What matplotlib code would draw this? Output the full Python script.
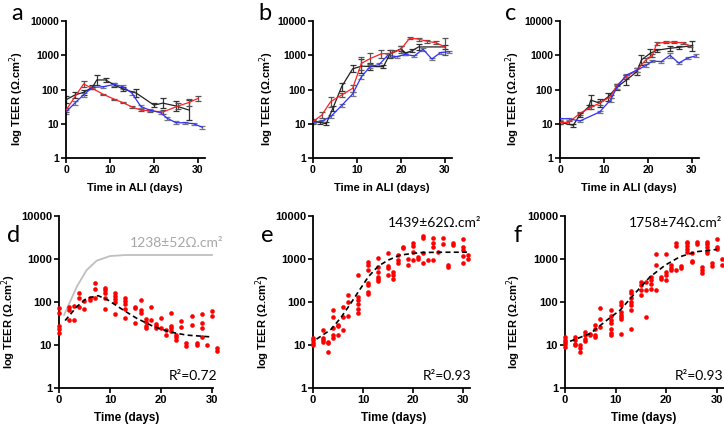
import numpy as np
import matplotlib
matplotlib.use("Agg")
import matplotlib.pyplot as plt

plt.rcParams["font.family"] = ["Liberation Sans", "DejaVu Sans"]

W, H = 724, 424

# ---- top row: mean TEER per donor (red / black / blue) ----
a_red_x = [0, 4, 6, 8.5, 11, 13, 15, 17, 19, 22, 25.5, 28, 30]
a_red_y = [25, 145, 108, 72, 52, 41, 31, 25, 24, 22, 33, 42, 55]
a_red_e = [0.05, 0.08, 0.03, 0.02, 0.02, 0.02, 0.02, 0.03, 0.03, 0.05, 0.08, 0.1, 0.08]
a_blk_x = [0, 2, 4, 6, 7, 9, 11, 13, 16, 20, 22, 25, 28]
a_blk_y = [50, 69, 83, 116, 190, 190, 135, 103, 78, 35, 40, 33, 25]
a_blk_e = [0.1, 0.08, 0.08, 0.06, 0.15, 0.05, 0.06, 0.05, 0.12, 0.05, 0.14, 0.16, 0.3]
a_blu_x = [0, 2, 4, 6, 8.5, 11, 13, 15, 17, 19, 21.5, 23, 25, 27, 29, 31]
a_blu_y = [22, 40, 70, 115, 120, 142, 120, 78, 32, 25, 21, 14.5, 10.7, 10.7, 10, 7.9]
a_blu_e = [0.05, 0.05, 0.06, 0.03, 0.03, 0.04, 0.05, 0.06, 0.05, 0.04, 0.04, 0.04, 0.04, 0.03, 0.03, 0.05]

b_red_x = [0, 2, 4, 6.5, 9, 11, 13, 15.5, 18, 20, 22, 24, 26, 28, 30]
b_red_y = [11.5, 18, 44, 69, 108, 580, 800, 1100, 1150, 1500, 3200, 2950, 2550, 2300, 1750]
b_red_e = [0.08, 0.08, 0.15, 0.05, 0.1, 0.2, 0.15, 0.12, 0.1, 0.1, 0.03, 0.04, 0.04, 0.04, 0.25]
b_blk_x = [0, 1.5, 3, 4.5, 6.5, 9, 11, 13, 16, 17.5, 20, 21, 22.5, 24, 30]
b_blk_y = [11.5, 11, 10, 28, 120, 400, 480, 470, 465, 1100, 1550, 1150, 1350, 1750, 1750]
b_blk_e = [0.05, 0.05, 0.05, 0.08, 0.12, 0.1, 0.2, 0.1, 0.05, 0.12, 0.08, 0.04, 0.05, 0.08, 0.05]
b_blu_x = [0, 2, 4, 6.5, 9, 11, 13, 15, 17, 19, 21, 23, 25, 27, 29, 31]
b_blu_y = [11, 12, 16, 34, 74, 235, 470, 530, 1000, 910, 1060, 950, 1500, 780, 1200, 1270]
b_blu_e = [0.03, 0.03, 0.04, 0.05, 0.05, 0.05, 0.04, 0.04, 0.04, 0.03, 0.03, 0.03, 0.04, 0.03, 0.03, 0.03]

c_red_x = [0, 2, 4.5, 7, 9, 11.5, 13, 15, 17.5, 19.5, 21, 22, 24, 26, 28, 29.5]
c_red_y = [11, 11, 20, 30, 40, 62, 135, 235, 370, 730, 1000, 2200, 2400, 2400, 2300, 1900]
c_red_e = [0.05, 0.05, 0.05, 0.05, 0.05, 0.05, 0.04, 0.05, 0.05, 0.05, 0.05, 0.03, 0.03, 0.03, 0.03, 0.03]
c_blk_x = [0, 3, 4.5, 6.5, 7, 9, 11, 13, 15, 17.5, 18.5, 20.5, 22, 25, 27, 30]
c_blk_y = [11, 9, 18, 31, 49, 40, 62, 120, 185, 335, 730, 1140, 1400, 1600, 1700, 1900]
c_blk_e = [0.05, 0.05, 0.06, 0.05, 0.15, 0.12, 0.12, 0.08, 0.15, 0.1, 0.15, 0.12, 0.05, 0.08, 0.05, 0.15]
c_blu_x = [0, 2, 4.5, 9, 11.5, 13, 15, 17.5, 19.5, 21, 23, 25, 27, 29, 31]
c_blu_y = [14, 14, 12, 22, 50, 120, 260, 370, 500, 680, 650, 1000, 590, 830, 970]
c_blu_e = [0.03, 0.03, 0.03, 0.03, 0.05, 0.05, 0.05, 0.05, 0.04, 0.03, 0.03, 0.08, 0.03, 0.03, 0.05]

# ---- bottom row: pooled replicate values (day, TEER) ----
d_x = [0]*5 + [2]*3 + [3]*2 + [4]*3 + [5]*2 + [6]*2 + [7]*3 + [9]*5 + [11]*5 + [13]*5 \
      + [15]*3 + [16]*3 + [17]*4 + [18]*2 + [19]*3 + [20]*2 + [21]*2 + [22]*4 + [23]*3 \
      + [24]*2 + [25]*2 + [26]*2 + [27]*2 + [28]*4 + [29] + [30]*2 + [31]*2
d_y = [71, 56, 28, 23, 19.5, 78, 65, 38, 80, 38, 160, 122, 78, 105, 68, 122, 110,
       280, 198, 122, 215, 190, 165, 122, 68, 160, 138, 115, 102, 52, 122, 105, 88, 68, 42,
       78, 71, 32, 112, 65, 56, 40, 35, 28, 24.5, 78, 38, 30, 27, 25, 42, 25, 22, 17,
       56, 28, 24.5, 21, 17, 15, 13, 36, 26, 11.3, 9.5, 47, 29, 11, 10,
       52, 33, 24.5, 15, 10, 63, 47, 8.4, 7.3]
d_fit_x = [1.2, 3.5, 5.4, 7.7, 9.6, 12.6, 15.2, 18.5, 21.8, 25, 29.6]
d_fit_y = [37, 78, 122, 140, 111, 65, 42, 27, 20, 17, 15.5]
d_ref_x = [1, 3.5, 5.4, 7.4, 10, 13, 20, 30]
d_ref_y = [50, 228, 550, 915, 1170, 1238, 1238, 1238]

e_x = [0]*4 + [2]*4 + [3]*3 + [4]*5 + [5]*3 + [6]*3 + [7]*3 + [9]*6 + [11]*7 + [13]*6 \
      + [15]*4 + [16]*3 + [17]*3 + [18]*2 + [19]*2 + [20]*4 + [21]*2 + [22]*4 + [23] \
      + [24]*4 + [25] + [26]*2 + [27]*2 + [28]*2 + [30]*5 + [31]*2
e_y = [14.5, 13.2, 11.4, 10.2, 22.5, 14.5, 13.2, 12, 12, 11, 7, 66, 44, 25, 17, 14.5,
       29, 27, 17, 75, 46, 22, 146, 98, 48, 425, 130, 112, 89, 69, 55,
       830, 725, 560, 280, 250, 175, 155, 1040, 640, 510, 390, 345, 315,
       1350, 690, 610, 425, 510, 425, 340, 1240, 950, 800, 1950, 1780, 980, 730,
       2400, 2000, 1420, 950, 1130, 1000, 3450, 3000, 1360, 800, 950,
       3000, 2350, 1950, 950, 1480, 3000, 2250, 730, 640, 2350, 2150,
       2900, 1870, 1580, 1170, 820, 1240, 990]
e_fit_x = [0.7, 3.5, 5.5, 7.5, 9.1, 11.1, 13.1, 15.1, 17.5, 21.5, 25, 30.8]
e_fit_y = [13.7, 22.5, 42, 91, 175, 390, 690, 950, 1240, 1410, 1435, 1440]

f_x = [0]*5 + [2]*4 + [3]*3 + [4]*4 + [5]*2 + [6]*4 + [7]*3 + [9]*7 + [11]*7 + [13]*7 \
      + [15]*4 + [16]*3 + [17]*4 + [18]*3 + [19]*2 + [20]*4 + [21]*3 + [22]*3 + [23]*2 \
      + [24]*5 + [25]*3 + [26]*2 + [27]*3 + [28]*5 + [29]*2 + [30]*3 + [31]*2
f_y = [15.4, 13.4, 11.8, 10.4, 9.1, 15.4, 12.9, 10.8, 9.9, 9.9, 8.3, 6.9,
       20, 17, 14.1, 12.4, 18.5, 17, 29, 24, 17, 15.4, 71, 41, 26.5,
       65, 47, 39, 32, 24, 19, 17, 101, 84, 59, 49, 44, 41, 18.5,
       180, 158, 127, 101, 84, 65, 24, 295, 245, 190, 145, 295, 190, 44,
       385, 325, 260, 205, 1300, 720, 190, 385, 350, 1300, 510, 420, 325,
       720, 630, 550, 2300, 2000, 550, 680, 610, 2500, 2300, 2000, 1670, 1480,
       1350, 880, 830, 2500, 2200, 640, 550, 480, 2500, 2200, 1900, 1550, 1350,
       790, 690, 2900, 1900, 1670, 990, 720]
f_fit_x = [1, 5, 7.9, 10.9, 13.8, 16.8, 19.8, 22.7, 26, 30]
f_fit_y = [12.2, 18.5, 35, 65, 158, 385, 720, 1130, 1480, 1670]

YTICKS = [1, 10, 100, 1000, 10000]
YLAB = "log TEER (\u03a9.cm$^2$)"
ANN_FONT = ["Lato", "DejaVu Sans"]


def px_axes(fig, left, top, width, height):
    return fig.add_axes([left / W, 1 - (top + height) / H, width / W, height / H])


def style(ax, xmax, fs):
    ax.set_yscale("log")
    ax.set_ylim(1, 10000)
    ax.set_xlim(0, xmax)
    ax.set_yticks(YTICKS)
    ax.set_yticklabels([str(t) for t in YTICKS])
    ax.minorticks_off()
    ax.set_xticks([0, 10, 20, 30])
    for s in ("top", "right"):
        ax.spines[s].set_visible(False)
    for s in ("left", "bottom"):
        ax.spines[s].set_linewidth(1.3)
    ax.tick_params(length=3.5, width=1.2, labelsize=fs, pad=1.5)
    for t in ax.get_xticklabels() + ax.get_yticklabels():
        t.set_fontweight("bold")


def series(ax, x, y, e, col, ecol):
    y = np.array(y, float); e = np.array(e, float)
    lo = y - y / 10 ** e; hi = y * 10 ** e - y
    ax.errorbar(x, y, yerr=[lo, hi], fmt="none", ecolor=ecol, elinewidth=0.9, capsize=2, capthick=0.9, zorder=2)
    ax.plot(x, y, color=col, lw=0.9, zorder=3)


fig = plt.figure(figsize=(W / 100, H / 100), dpi=100)

top = [
    (66, "a", [(a_red_x, a_red_y, a_red_e), (a_blk_x, a_blk_y, a_blk_e), (a_blu_x, a_blu_y, a_blu_e)], 17),
    (313, "b", [(b_red_x, b_red_y, b_red_e), (b_blk_x, b_blk_y, b_blk_e), (b_blu_x, b_blu_y, b_blu_e)], 267),
    (560, "c", [(c_red_x, c_red_y, c_red_e), (c_blk_x, c_blk_y, c_blk_e), (c_blu_x, c_blu_y, c_blu_e)], 513),
]
for left, letter, data, ylx in top:
    ax = px_axes(fig, left, 21, 138.6, 137)
    style(ax, 31.5, 7.5)
    (rx, ry, re), (kx, ky, ke), (bx, by, be) = data
    series(ax, kx, ky, ke, "#222222", "#333333")
    series(ax, rx, ry, re, "#ff2020", "#555555")
    series(ax, bx, by, be, "#3030ff", "#777777")
    fig.text((left + 69) / W, 1 - 188 / H, "Time in ALI (days)", ha="center", va="center",
             fontsize=8, fontweight="bold")
    fig.text(ylx / W, 1 - 99 / H, YLAB, rotation=90, ha="center", va="center", fontsize=8, fontweight="bold")
    fig.text((left - 55) / W, 1 - 13 / H, letter, fontsize=17, family=ANN_FONT, ha="left", va="center")

bottom = [
    (59, 154, 30.2, "d", d_x, d_y, d_fit_x, d_fit_y, 9, 127, "R\u00b2=0.72"),
    (313, 157, 31.4, "e", e_x, e_y, e_fit_x, e_fit_y, 263, 394, "R\u00b2=0.93"),
    (565, 159, 31.4, "f", f_x, f_y, f_fit_x, f_fit_y, 514, 644, "R\u00b2=0.93"),
]
for left, width, xmax, letter, px, py, fx, fy, ylx, xlx, r2 in bottom:
    ax = px_axes(fig, left, 216, width, 172)
    style(ax, xmax, 8)
    ax.scatter(px, py, s=11, color="#ff0000", linewidths=0, zorder=3, clip_on=False)
    ax.plot(fx, fy, color="black", lw=1.2, ls=(0, (3, 2)), zorder=4)
    if letter == "d":
        ax.plot(d_ref_x, d_ref_y, color="#bfbfbf", lw=1.3, zorder=2)
    fig.text(xlx / W, 1 - 418 / H, "Time (days)", ha="center", va="center", fontsize=8.5, fontweight="bold")
    fig.text(ylx / W, 1 - 322 / H, YLAB, rotation=90, ha="center", va="center", fontsize=8, fontweight="bold")
    fig.text((left - 52) / W, 1 - 236 / H, letter, fontsize=17, family=ANN_FONT, ha="left", va="center")
    fig.text((left + 158) / W, 1 - 376 / H, r2, fontsize=10, family=ANN_FONT, ha="right", va="center")

fig.text(223 / W, 1 - 243 / H, "1238\u00b152\u03a9.cm\u00b2", fontsize=10, family=ANN_FONT,
         color="#a6a6a6", ha="right", va="center")
fig.text(481 / W, 1 - 223 / H, "1439\u00b162\u03a9.cm\u00b2", fontsize=10, family=ANN_FONT, ha="right", va="center")
fig.text(722 / W, 1 - 223 / H, "1758\u00b174\u03a9.cm\u00b2", fontsize=10, family=ANN_FONT, ha="right", va="center")

fig.savefig("out.png", dpi=100)
